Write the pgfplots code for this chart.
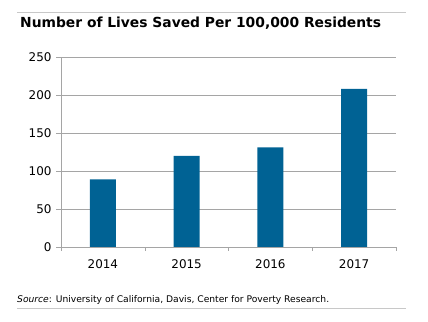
\documentclass[border=0pt]{standalone}
\usepackage{pgfplots}
\pgfplotsset{compat=1.18}
\usepackage{fontspec}
\setmainfont{DejaVu Sans}
\definecolor{barblue}{RGB}{0,98,148}
\definecolor{gridgray}{RGB}{165,165,165}
\definecolor{rulegray}{RGB}{200,200,200}
\begin{document}
\begin{tikzpicture}[x=1bp,y=1bp]
\path (0,0) rectangle (428,322);
\draw[rulegray,line width=0.8bp] (17,310) -- (406,310);
\draw[rulegray,line width=0.8bp] (17,14) -- (406,14);
\node[anchor=base west,inner sep=0pt,font=\bfseries\fontsize{13.9}{16}\selectfont] at (20,294.5) {Number of Lives Saved Per 100,000 Residents};
\node[anchor=base west,inner sep=0pt,font=\fontsize{9.2}{11}\selectfont] at (17,20) {\textit{Source}: University of California, Davis, Center for Poverty Research.};
\begin{axis}[
  at={(61bp,75bp)}, anchor=south west,
  scale only axis, width=335bp, height=190bp,
  xmin=-0.5, xmax=3.5, ymin=0, ymax=250,
  ytick={0,50,100,150,200,250},
  xtick={0,1,2,3}, xticklabels={2014,2015,2016,2017},
  minor xtick={-0.5,0.5,1.5,2.5,3.5},
  major x tick style={draw=none},
  minor x tick style={gridgray},
  minor tick length=4bp,
  y tick style={gridgray},
  major tick length=5bp,
  tick align=outside,
  axis x line*=bottom, axis y line*=left,
  x axis line style={gridgray,-}, y axis line style={gridgray,-},
  ymajorgrids, grid style={gridgray,line width=0.6bp},
  tick label style={font=\fontsize{12}{14}\selectfont},
  /pgf/number format/assume math mode=true,
  ticklabel style={text=black},
  yticklabel style={xshift=-1bp},
  xticklabel style={yshift=-4bp},
]
\addplot[ybar, bar width=26bp, fill=barblue, draw=none] coordinates {(0,89) (1,120) (2,131) (3,208)};
\end{axis}
\end{tikzpicture}
\end{document}
